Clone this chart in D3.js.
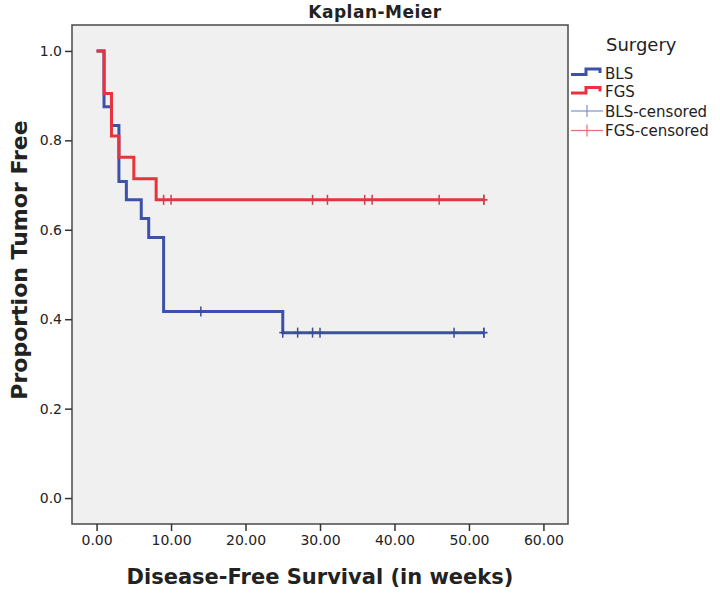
<!DOCTYPE html>
<html>
<head>
<meta charset="utf-8">
<script src="https://cdn.jsdelivr.net/npm/d3@7"></script>
<style>
  html, body { margin: 0; padding: 0; background: #ffffff; }
  svg { display: block; }
  text { font-family: "DejaVu Sans", sans-serif; fill: #222; }
</style>
</head>
<body>
<svg id="chart" width="720" height="593"></svg>
<script>
// ---- data ----
const blsTimes = [0, 1, 2, 3, 4, 6, 7, 9, 25, 52];
const blsSurv  = [1.0, 0.875, 0.833, 0.708, 0.667, 0.625, 0.583, 0.417, 0.370, 0.370];
const blsCensored = [14, 25, 27, 29, 30, 48, 52, 52];

const fgsTimes = [0, 1, 2, 3, 5, 8, 52];
const fgsSurv  = [1.0, 0.905, 0.810, 0.762, 0.714, 0.667, 0.667];
const fgsCensored = [9, 10, 29, 31, 36, 37, 46, 52, 52];

const xTicks = [0, 10, 20, 30, 40, 50, 60];
const yTicks = [0, 0.2, 0.4, 0.6, 0.8, 1.0];
const legendTitle = "Surgery";
const legendLabels = ["BLS", "FGS", "BLS-censored", "FGS-censored"];
const chartTitle = "Kaplan-Meier";
const xTitle = "Disease-Free Survival (in weeks)";
const yTitle = "Proportion Tumor Free";

(function () {
// ---- layout ----
const svg = d3.select("#chart");
const pLeft = 72, pRight = 568, pTop = 25, pBottom = 524;
const blue = "#3c51a9", red = "#e8333d";
const blueCens = "#3a4d9a", redCens = "#c8434c";
const blueLeg = "#7f8fd2", redLeg = "#ef6b73";

const x = d3.scaleLinear().domain([-3.3, 63.3]).range([pLeft, pRight]);
const y = d3.scaleLinear().domain([-0.058, 1.058]).range([pBottom, pTop]);

// plot area
svg.append("rect")
  .attr("x", pLeft).attr("y", pTop)
  .attr("width", pRight - pLeft).attr("height", pBottom - pTop)
  .attr("fill", "#f0f0f0").attr("stroke", "#4a4a4a").attr("stroke-width", 1.5);

// axes
const xAxis = d3.axisBottom(x).tickValues(xTicks).tickFormat(d3.format(".2f"))
  .tickSize(7).tickSizeOuter(0).tickPadding(4);
const gx = svg.append("g").attr("transform", `translate(0,${pBottom})`).call(xAxis);
gx.select(".domain").remove();
gx.selectAll("line").attr("stroke", "#333").attr("stroke-width", 1.5);
gx.selectAll("text").attr("font-size", 14).attr("fill", "#2a2a2a")
  .attr("font-family", "DejaVu Sans, sans-serif");

const yAxis = d3.axisLeft(y).tickValues(yTicks).tickFormat(d3.format(".1f"))
  .tickSize(7).tickSizeOuter(0).tickPadding(3);
const gy = svg.append("g").attr("transform", `translate(${pLeft},0)`).call(yAxis);
gy.select(".domain").remove();
gy.selectAll("line").attr("stroke", "#333").attr("stroke-width", 1.5);
gy.selectAll("text").attr("font-size", 14).attr("fill", "#2a2a2a")
  .attr("font-family", "DejaVu Sans, sans-serif");

// survival step curves
const line = d3.line().x(d => x(d[0])).y(d => y(d[1])).curve(d3.curveStepAfter);
const blsPts = blsTimes.map((t, i) => [t, blsSurv[i]]);
const fgsPts = fgsTimes.map((t, i) => [t, fgsSurv[i]]);

function survAt(times, surv, t) {
  let v = surv[0];
  for (let i = 0; i < times.length; i++) if (times[i] <= t) v = surv[i];
  return v;
}

function drawCurve(pts, color) {
  svg.append("path").datum(pts)
    .attr("d", line)
    .attr("fill", "none").attr("stroke", color)
    .attr("stroke-width", 3).attr("stroke-linejoin", "miter").attr("stroke-linecap", "butt");
}
function drawCensored(times, surv, cens, color) {
  const g = svg.append("g").attr("stroke", color).attr("stroke-width", 1.5);
  cens.forEach(t => {
    const cx = x(t), cy = y(survAt(times, surv, t));
    g.append("line").attr("x1", cx).attr("x2", cx).attr("y1", cy - 5).attr("y2", cy + 5);
    g.append("line").attr("x1", cx - 3.5).attr("x2", cx + 3.5).attr("y1", cy).attr("y2", cy);
  });
}

drawCurve(blsPts, blue);
drawCensored(blsTimes, blsSurv, blsCensored, blueCens);
drawCurve(fgsPts, red);
drawCensored(fgsTimes, fgsSurv, fgsCensored, redCens);

// titles
svg.append("text").attr("x", 375).attr("y", 18).attr("text-anchor", "middle")
  .attr("font-size", 17).attr("letter-spacing", 0.5).attr("font-weight", "bold").text(chartTitle);
svg.append("text").attr("x", (pLeft + pRight) / 2).attr("y", 584).attr("text-anchor", "middle")
  .attr("font-size", 21).attr("font-weight", "bold").text(xTitle);
svg.append("text").attr("transform", `translate(27,260) rotate(-90)`)
  .attr("text-anchor", "middle")
  .attr("font-size", 22).attr("font-weight", "bold").text(yTitle);

// legend
const lx = 571, lw = 32, tx = 605;
svg.append("text").attr("x", 606).attr("y", 51).attr("font-size", 18).text(legendTitle);
const rows = [73, 91.5, 111, 130.5];
const legColors = [blue, red, blueLeg, redLeg];
legendLabels.forEach((lab, i) => {
  const ry = rows[i];
  if (i < 2) {
    svg.append("path")
      .attr("d", `M${lx},${ry + 1.5} H${lx + 15} V${ry - 4} H${lx + lw - 3} V${ry}`)
      .attr("fill", "none").attr("stroke", legColors[i]).attr("stroke-width", 3);
  } else {
    svg.append("line").attr("x1", lx).attr("x2", lx + lw).attr("y1", ry).attr("y2", ry)
      .attr("stroke", legColors[i]).attr("stroke-width", 1.2);
    svg.append("line").attr("x1", lx + lw / 2).attr("x2", lx + lw / 2).attr("y1", ry - 6).attr("y2", ry + 6)
      .attr("stroke", legColors[i]).attr("stroke-width", 1.2);
  }
  svg.append("text").attr("x", tx).attr("y", ry + 5.5).attr("font-size", 15).text(lab);
});
})();
</script>
</body>
</html>
